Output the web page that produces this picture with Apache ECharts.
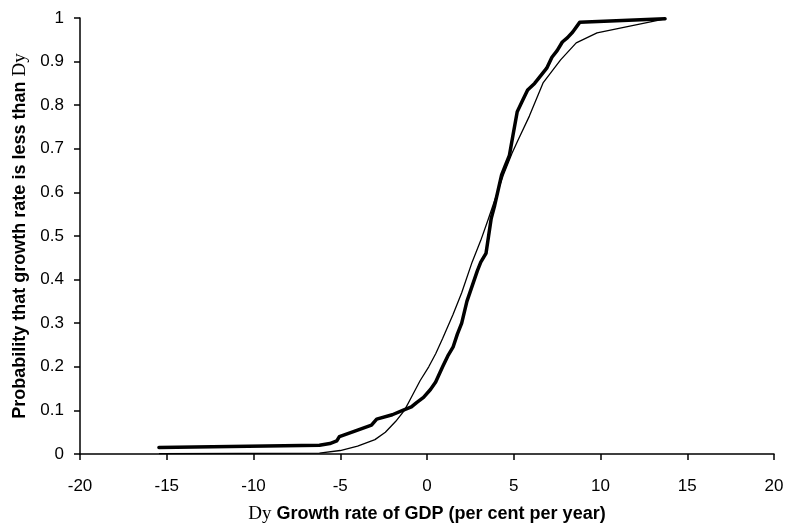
<!DOCTYPE html>
<html>
<head>
<meta charset="utf-8">
<script src="https://cdn.jsdelivr.net/npm/echarts@6/dist/echarts.min.js"></script>
<style>html,body{margin:0;padding:0;background:#fff}#c{width:787px;height:529px}</style>
</head>
<body>
<div id="c"></div>
<script>
// Empirical distribution (thick line)
var empX = [-15.45, -6.2, -5.6, -5.2, -5.05, -4.2, -3.2, -2.9, -2.0, -1.4, -0.9, -0.6, -0.2, 0.2, 0.5, 0.9, 1.2, 1.5, 1.75, 2.0, 2.3, 2.6, 2.9, 3.1, 3.4, 3.55, 3.7, 3.9, 4.1, 4.3, 4.5, 4.75, 4.95, 5.2, 5.5, 5.8, 6.2, 6.5, 6.9, 7.2, 7.5, 7.8, 8.1, 8.4, 8.8, 13.72];
var empY = [0.015, 0.02, 0.024, 0.03, 0.04, 0.052, 0.066, 0.08, 0.09, 0.1, 0.108, 0.118, 0.13, 0.148, 0.165, 0.2, 0.225, 0.245, 0.275, 0.3, 0.35, 0.385, 0.42, 0.44, 0.46, 0.5, 0.54, 0.57, 0.605, 0.64, 0.66, 0.685, 0.73, 0.785, 0.81, 0.835, 0.85, 0.865, 0.885, 0.91, 0.925, 0.945, 0.955, 0.968, 0.99, 0.998];
// Fitted distribution (thin line)
var fitX = [-15.45, -6.2, -5.0, -4.0, -3.0, -2.4, -1.8, -1.3, -0.9, -0.4, 0.1, 0.5, 0.9, 1.5, 2.0, 2.6, 3.1, 3.5, 3.8, 4.1, 4.4, 4.9, 5.25, 5.9, 6.7, 7.7, 8.6, 9.8, 13.72];
var fitY = [0.001, 0.002, 0.008, 0.018, 0.033, 0.05, 0.075, 0.1, 0.13, 0.168, 0.2, 0.23, 0.265, 0.32, 0.37, 0.44, 0.49, 0.535, 0.57, 0.605, 0.64, 0.69, 0.72, 0.775, 0.852, 0.904, 0.943, 0.966, 0.998];
var xTicks = [-20, -15, -10, -5, 0, 5, 10, 15, 20];
var xName = 'Growth rate of GDP (per cent per year)';
var yName = 'Probability that growth rate is less than ';

function pairs(xs, ys) { return xs.map(function (x, i) { return [x, ys[i]]; }); }

var chart = echarts.init(document.getElementById('c'));
var axisFont = { fontFamily: 'Liberation Sans, Arial, sans-serif', fontSize: 17, color: '#000' };
var nameStyle = { fontFamily: 'Liberation Sans, Arial, sans-serif', fontSize: 18, fontWeight: 'bold', color: '#000',
  rich: { d: { fontFamily: 'Liberation Serif, Times New Roman, serif', fontSize: 19, fontWeight: 'normal', color: '#000' } } };
chart.setOption({
  animation: false,
  backgroundColor: '#fff',
  grid: { left: 80, right: 13, top: 18, bottom: 68, containLabel: false },
  xAxis: {
    type: 'value', min: xTicks[0], max: xTicks[xTicks.length - 1], interval: 5,
    name: '{d|Dy} ' + xName, nameLocation: 'middle', nameGap: 51,
    nameTextStyle: nameStyle,
    axisLine: { onZero: false, lineStyle: { color: '#000', width: 1.5 } },
    axisTick: { show: true, length: 6, lineStyle: { color: '#000', width: 1.5 } },
    axisLabel: Object.assign({ margin: 24 }, axisFont),
    splitLine: { show: false }
  },
  yAxis: {
    type: 'value', min: 0, max: 1, interval: 0.1,
    name: yName + '{d|Dy}', nameLocation: 'middle', nameGap: 49,
    nameTextStyle: nameStyle,
    axisLine: { show: true, onZero: false, lineStyle: { color: '#000', width: 1.5 } },
    axisTick: { show: true, length: 6, lineStyle: { color: '#000', width: 1.5 } },
    axisLabel: Object.assign({ margin: 16, formatter: function (v) { return String(Math.round(v * 10) / 10); } }, axisFont),
    splitLine: { show: false }
  },
  series: [
    { type: 'line', data: pairs(fitX, fitY), symbol: 'none', lineStyle: { color: '#000', width: 1.3 }, z: 3 },
    { type: 'line', data: pairs(empX, empY), symbol: 'none', lineStyle: { color: '#000', width: 3.5, join: 'round', cap: 'round' }, z: 4 }
  ]
});
</script>
</body>
</html>
